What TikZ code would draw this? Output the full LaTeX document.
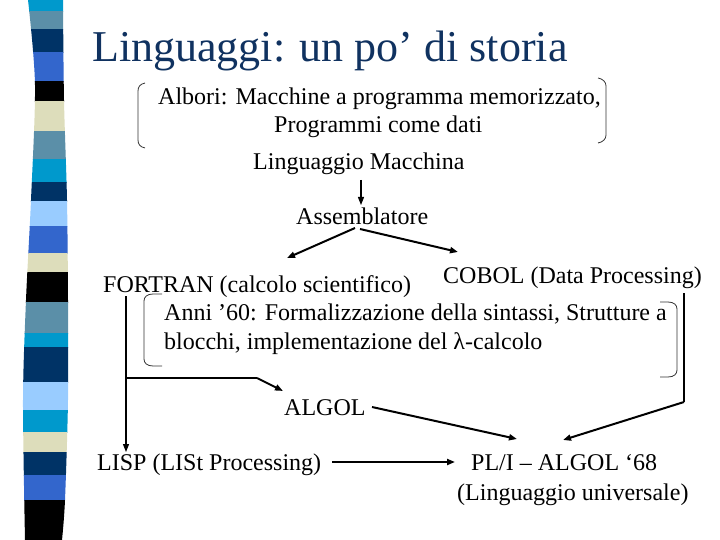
\documentclass[tikz,border=0pt]{standalone}
\usepackage{fontspec}
\setmainfont{Liberation Serif}
\usetikzlibrary{arrows.meta,calc}
\definecolor{titleblue}{RGB}{16,50,96}
\definecolor{scyan}{RGB}{0,153,204}
\definecolor{ssteel}{RGB}{91,143,168}
\definecolor{snavy}{RGB}{0,51,102}
\definecolor{sroyal}{RGB}{51,102,204}
\definecolor{sbeige}{RGB}{221,221,187}
\definecolor{slight}{RGB}{153,204,255}
\begin{document}
\begin{tikzpicture}[x=1pt,y=-1pt,
  txt/.style={anchor=base west, inner sep=0pt, font=\fontsize{24}{28}\selectfont},
  thinline/.style={line width=1.2pt},
  thickline/.style={line width=2pt},
  tip/.style={-{Triangle[length=8pt,width=6pt]}},
  brk/.style={line width=0.8pt, draw=black!80}]
\useasboundingbox (0,0) rectangle (720,540);
% decorative ribbon
\begin{scope}
\clip plot[smooth] coordinates {(28,0) (35,85) (31,200) (26,300) (23,400) (25,540)}
  -- plot[smooth] coordinates {(62,540) (65,500) (68,400) (68,300) (67,200) (64,100) (63,0)} -- cycle;
\foreach \a/\b/\c in {0/12/scyan,12/30/ssteel,30/53/snavy,53/82/sroyal,82/102/black,
  102/132/sbeige,132/160/ssteel,160/183/scyan,183/202/snavy,202/227/slight,227/253/sroyal,
  253/272/sbeige,272/302/black,302/333/ssteel,333/347/scyan,347/382/snavy,382/410/slight,
  410/432/scyan,432/452/sbeige,452/475/snavy,475/500/sroyal,500/540/black}
  \fill[\c] (0,\a-0.5) rectangle (80,\b+0.5);
\end{scope}
% title
\node[anchor=base west, inner sep=0pt, font=\fontsize{44}{50}\selectfont, text=titleblue] (title) at (92,62) {Linguaggi: un po’ di storia};
% texts
\node[txt] (albori) at (158,105) {Albori: Macchine a programma memorizzato,};
\node[txt] (prog) at (274,133) {Programmi come dati};
\node[txt] (lm) at (253,170) {Linguaggio Macchina};
\node[txt] (asm) at (296,225) {Assemblatore};
\node[txt] (fortran) at (103,292) {FORTRAN (calcolo scientifico)};
\node[txt] (cobol) at (443,283) {COBOL (Data Processing)};
\node[txt] (anni) at (164,320) {Anni ’60: Formalizzazione della sintassi, Strutture a};
\node[txt] (blocchi) at (164,349) {blocchi, implementazione del λ-calcolo};
\node[txt] (algol) at (284,415) {ALGOL};
\node[txt] (lisp) at (97,470) {LISP (LISt Processing)};
\node[txt] (pli) at (471,470) {PL/I – ALGOL ‘68};
\node[txt] (univ) at (457,500) {(Linguaggio universale)};
% brackets
\draw[brk] (145,83) .. controls (140,84) and (138,87) .. (138,91) -- (138,140) .. controls (138,144) and (140,147) .. (145,148);
\draw[brk] (598,78) .. controls (603,79) and (606,82) .. (606,86) -- (606,135) .. controls (606,139) and (603,142) .. (598,143);
\draw[brk] (162,294) -- (153,294) .. controls (147,294) and (144,297) .. (144,301) -- (144,359) .. controls (144,363) and (147,366) .. (153,366) -- (162,366);
\draw[brk] (660,302) -- (668,302) .. controls (674,302) and (677,305) .. (677,309) -- (677,370) .. controls (677,374) and (674,377) .. (668,377) -- (660,377);
% connector points
\coordinate (lmOut) at (361,180);
\coordinate (asmIn) at (361,205);
\coordinate (asmL) at (355,228);
\coordinate (asmR) at (360,229);
\coordinate (fortranTip) at (287,258);
\coordinate (cobolTip) at (458,252);
\coordinate (fTop) at (126,296);
\coordinate (lispTip) at (126,452);
\coordinate (fH) at (126,378);
\coordinate (fBend) at (257,378);
\coordinate (algolTip) at (283,391);
\coordinate (cTop) at (684,293);
\coordinate (cBend) at (684,402);
\coordinate (pliTipR) at (563,440);
\coordinate (algolOut) at (372,407);
\coordinate (pliTipL) at (517,439);
\coordinate (lispOut) at (332,462);
\coordinate (pliIn) at (455,462);
% connectors
\draw[thinline,tip] (lmOut) -- (asmIn);
\draw[thickline,tip] (asmL) -- (fortranTip);
\draw[thickline,tip] (asmR) -- (cobolTip);
\draw[thinline,tip] (fTop) -- (lispTip);
\draw[thinline] (fH) -- (fBend);
\draw[thickline,tip] (fBend) -- (algolTip);
\draw[thinline] (cTop) -- (cBend);
\draw[thickline,tip] (cBend) -- (pliTipR);
\draw[thickline,tip] (algolOut) -- (pliTipL);
\draw[thickline,tip] (lispOut) -- (pliIn);
\end{tikzpicture}
\end{document}
